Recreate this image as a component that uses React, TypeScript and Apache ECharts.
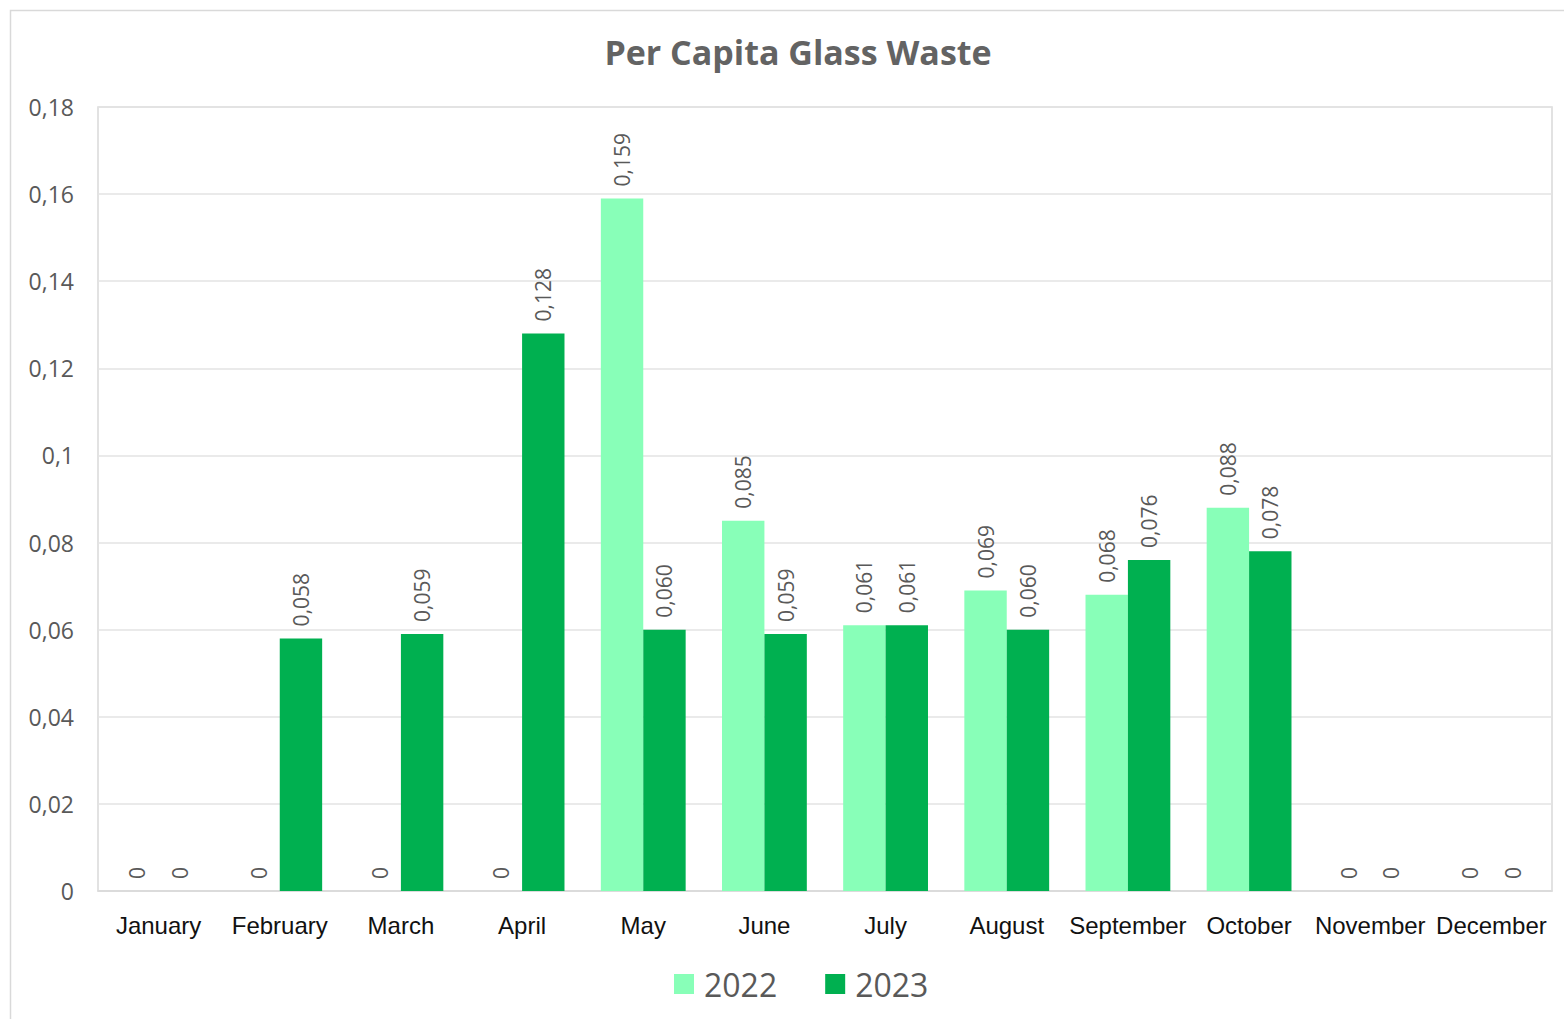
import React, { useEffect, useRef } from "react";
import * as echarts from "echarts";

const months = ["January", "February", "March", "April", "May", "June", "July", "August", "September", "October", "November", "December"];
const values2022 = [0, 0, 0, 0, 0.159, 0.085, 0.061, 0.069, 0.068, 0.088, 0, 0];
const values2023 = [0, 0.058, 0.059, 0.128, 0.06, 0.059, 0.061, 0.06, 0.076, 0.078, 0, 0];
const seriesNames = ["2022", "2023"];
const colors = ["#88FFB8", "#00B050"];

const FONT = "'Open Sans', 'Liberation Sans', sans-serif";

export default function App() {
  const ref = useRef<HTMLDivElement>(null);
  useEffect(() => {
    if (!ref.current) return;
    const chart = echarts.init(ref.current, null, { renderer: "svg" });
    const label = {
      show: true,
      position: "top",
      rotate: 90,
      align: "left",
      verticalAlign: "middle",
      distance: 12,
      color: "#595959",
      fontSize: 21,
      fontFamily: FONT,
      formatter: (p: any) => (p.value === 0 ? "0" : Number(p.value).toFixed(3).replace(".", ",")),
    };
    chart.setOption({
      animation: false,
      backgroundColor: "#ffffff",
      title: {
        text: "Per Capita Glass Waste",
        left: 793,
        textAlign: "center",
        top: 30,
        textStyle: { color: "#636363", fontSize: 34, fontWeight: "bold", fontFamily: FONT },
      },
      graphic: [
        {
          type: "rect",
          shape: { x: 10.5, y: 10.5, width: 1600, height: 1100 },
          style: { fill: "none", stroke: "#d9d9d9", lineWidth: 1.5 },
          silent: true,
        },
      ],
      legend: {
        bottom: 14,
        left: 669,
        itemWidth: 20,
        itemHeight: 20,
        itemGap: 48,
        icon: "rect",
        textStyle: { color: "#595959", fontSize: 32, fontFamily: FONT, padding: [0, 0, 0, 5] },
        data: seriesNames,
      },
      grid: {
        left: 98,
        right: 12,
        top: 107,
        bottom: 128,
        show: true,
        borderColor: "#d9d9d9",
        borderWidth: 1.5,
      },
      xAxis: {
        type: "category",
        data: months,
        axisTick: { show: false },
        axisLine: { lineStyle: { color: "#d9d9d9", width: 1.5 } },
        axisLabel: {
          color: "#111111",
          fontSize: 24,
          fontFamily: "'Liberation Sans', Arial, sans-serif",
          margin: 22,
          interval: 0,
        },
      },
      yAxis: {
        type: "value",
        min: 0,
        max: 0.18,
        interval: 0.02,
        axisLine: { show: false },
        axisTick: { show: false },
        splitLine: { lineStyle: { color: "#e3e3e3", width: 1.5 } },
        axisLabel: {
          color: "#595959",
          fontSize: 23,
          fontFamily: FONT,
          margin: 24,
          formatter: (v: number) => String(Math.round(v * 100) / 100).replace(".", ","),
        },
      },
      series: [
        {
          name: seriesNames[0],
          type: "bar",
          data: values2022,
          itemStyle: { color: colors[0] },
          barGap: "0%",
          barCategoryGap: "30%",
          label,
        },
        {
          name: seriesNames[1],
          type: "bar",
          data: values2023,
          itemStyle: { color: colors[1] },
          barGap: "0%",
          barCategoryGap: "30%",
          label,
        },
      ],
    });
    return () => chart.dispose();
  }, []);
  return <div ref={ref} style={{ position: "fixed", left: 0, top: 0, width: 1564, height: 1019 }} />;
}
